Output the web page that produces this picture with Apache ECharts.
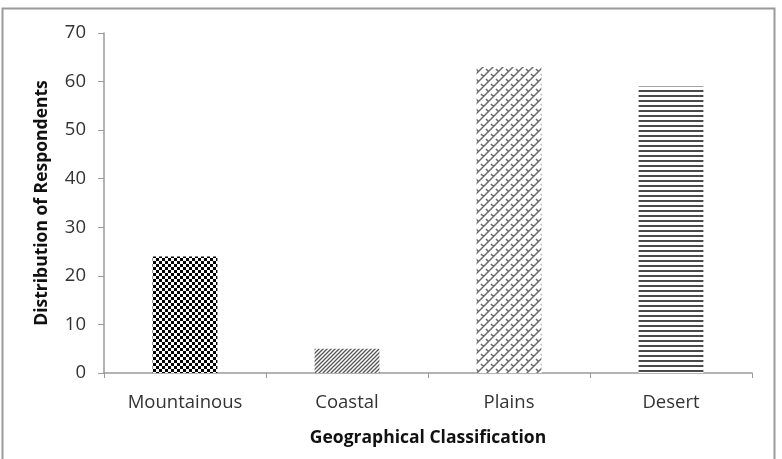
<!DOCTYPE html>
<html>
<head>
<meta charset="utf-8">
<script src="https://cdn.jsdelivr.net/npm/echarts@6/dist/echarts.min.js"></script>
<style>
  html, body { margin: 0; padding: 0; background: #fff; }
  #chart { width: 782px; height: 459px; }
</style>
</head>
<body>
<div id="chart"></div>
<script>
const categories = ["Mountainous", "Coastal", "Plains", "Desert"];
const values = [24, 5, 63, 59];
const yTicks = [0, 10, 20, 30, 40, 50, 60, 70];

// small canvas tiles used as bar fills
function makeTile(size, draw) {
  const c = document.createElement("canvas");
  c.width = size;
  c.height = size;
  const ctx = c.getContext("2d");
  ctx.fillStyle = "#fff";
  ctx.fillRect(0, 0, size, size);
  draw(ctx);
  return c;
}

// checkerboard
const checker = makeTile(6, (ctx) => {
  ctx.fillStyle = "#000";
  ctx.fillRect(0, 0, 3, 3);
  ctx.fillRect(3, 3, 3, 3);
});

// thin diagonal hatch
const hatch = makeTile(4, (ctx) => {
  ctx.strokeStyle = "#555";
  ctx.lineWidth = 1.3;
  ctx.beginPath();
  ctx.moveTo(-1, 5); ctx.lineTo(5, -1);
  ctx.moveTo(-1, 1); ctx.lineTo(1, -1);
  ctx.moveTo(3, 5); ctx.lineTo(5, 3);
  ctx.stroke();
});

// weave / brick diagonal
const weave = makeTile(10, (ctx) => {
  ctx.strokeStyle = "#6a6a6a";
  ctx.lineWidth = 1.5;
  ctx.beginPath();
  ctx.moveTo(0, 10); ctx.lineTo(10, 0);
  ctx.moveTo(-5, 5); ctx.lineTo(5, -5);
  ctx.moveTo(5, 15); ctx.lineTo(15, 5);
  ctx.moveTo(1, 4); ctx.lineTo(4, 7);
  ctx.moveTo(6, -1); ctx.lineTo(9, 2);
  ctx.moveTo(6, 9); ctx.lineTo(9, 12);
  ctx.stroke();
});

// horizontal stripes
const stripes = makeTile(5, (ctx) => {
  ctx.fillStyle = "#4a4a4a";
  ctx.fillRect(0, 0, 5, 2);
});

const fills = [checker, hatch, weave, stripes];

const chart = echarts.init(document.getElementById("chart"));
const font = "'Open Sans', sans-serif";

chart.setOption({
  animation: false,
  backgroundColor: "#fff",
  graphic: [
    {
      type: "rect",
      shape: { x: 2.5, y: 8.5, width: 772, height: 460 },
      style: { fill: "none", stroke: "#9a9a9a", lineWidth: 2 }
    }
  ],
  grid: { left: 104, right: 30, top: 33, bottom: 86 },
  xAxis: {
    type: "category",
    data: categories,
    name: "Geographical Classification",
    nameLocation: "middle",
    nameGap: 56,
    nameTextStyle: { fontFamily: font, fontSize: 17.5, fontWeight: "bold", color: "#111" },
    axisLine: { lineStyle: { color: "#9a9a9a", width: 1.5 } },
    axisTick: { show: true, length: 5, lineStyle: { color: "#9a9a9a" } },
    axisLabel: { fontFamily: font, fontSize: 18.5, color: "#333", margin: 20 }
  },
  yAxis: {
    type: "value",
    min: 0,
    max: 70,
    interval: 10,
    name: "Distribution of Respondents",
    nameLocation: "middle",
    nameRotate: 90,
    nameGap: 53,
    nameTextStyle: { fontFamily: font, fontSize: 17.5, fontWeight: "bold", color: "#111" },
    axisLine: { show: true, lineStyle: { color: "#9a9a9a", width: 1.5 } },
    axisTick: { show: true, length: 6, lineStyle: { color: "#9a9a9a" } },
    axisLabel: {
      fontFamily: font, fontSize: 18.5, color: "#333", margin: 18,
      formatter: (v) => (yTicks.includes(v) ? String(v) : "")
    },
    splitLine: { show: false }
  },
  series: [
    {
      type: "bar",
      barWidth: "40%",
      data: values.map((v, i) => ({
        value: v,
        itemStyle: { color: { image: fills[i], repeat: "repeat" } }
      }))
    }
  ]
});
</script>
</body>
</html>
